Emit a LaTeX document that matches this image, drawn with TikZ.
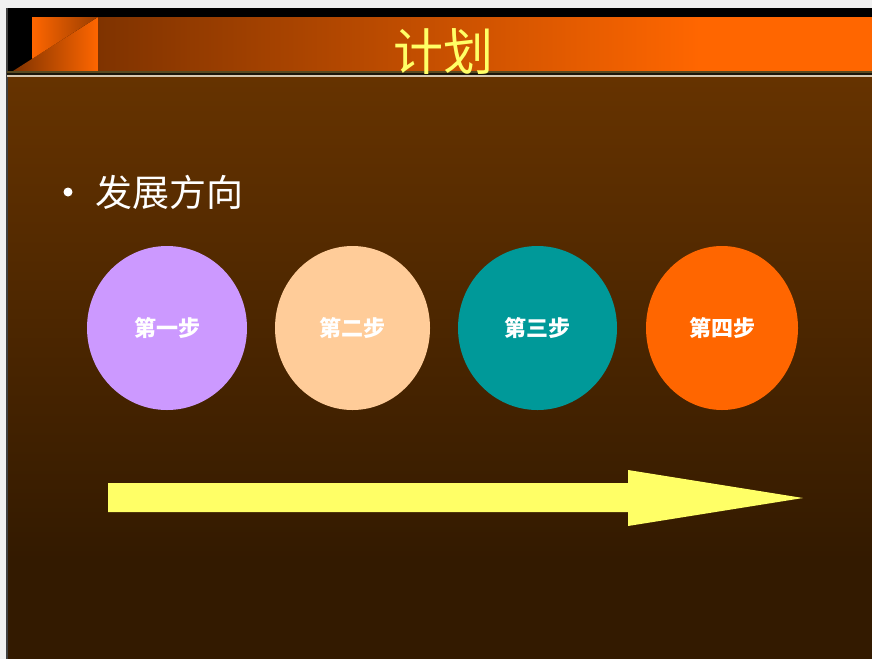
\documentclass[tikz,border=0pt]{standalone}
\usepackage{fontspec}
\newfontfamily\cjk{Noto Sans CJK SC}
\definecolor{pagegray}{HTML}{F0F0F0}
\definecolor{barbrown}{HTML}{7F3300}
\definecolor{barorange}{HTML}{FF6600}
\definecolor{bodytop}{HTML}{663300}
\definecolor{bodybot}{HTML}{331A00}
\definecolor{titleyellow}{HTML}{FFFF66}
\definecolor{lilac}{HTML}{CC99FF}
\definecolor{peach}{HTML}{FFCC99}
\definecolor{teal}{HTML}{009999}
\definecolor{arrowyellow}{HTML}{FFFF66}
\definecolor{lineolive}{HTML}{5A4A20}
\definecolor{linebeige}{HTML}{D8C8B0}
\tikzset{
  stepcircle/.style={ellipse, minimum width=#1, minimum height=164pt, inner sep=0pt, text=white, font=\cjk\bfseries\fontsize{22}{22}\selectfont},
}
\usetikzlibrary{shapes.geometric}
\begin{document}
\begin{tikzpicture}[x=1pt,y=-1pt]
\useasboundingbox (0,0) rectangle (872,659);
% page background
\fill[pagegray] (0,0) rectangle (872,659);
% slide body
\fill[black] (7,8) rectangle (872,77);
\shade[top color=bodytop, bottom color=bodybot, shading angle=0] (7,77) rectangle (872,560);
\fill[bodybot] (7,559.5) rectangle (872,659);
% left edge line
\fill[black!75] (6,8) rectangle (8,659);
% title bar
\shade[left color=barbrown, right color=barorange] (98,17) rectangle (700,71);
\fill[barorange] (699.5,17) rectangle (872,71);
\shade[left color=barbrown, right color=barorange] (13,71) -- (98,17) -- (98,71) -- cycle;
\shade[left color=barorange, right color=barbrown!80!barorange] (32,17) -- (98,17) -- (32,58.9) -- cycle;
% separator lines
\fill[lineolive] (7,71) rectangle (872,73);
\fill[black!70!lineolive] (7,73) rectangle (872,75);
\fill[linebeige] (7,75) rectangle (872,77);
% title
\node[text=titleyellow, font=\cjk\fontsize{50}{50}\selectfont, anchor=center] (title) at (443,52) {计划};
% bullet
\fill[white] (68,192) circle (4.5);
\node[text=white, font=\cjk\fontsize{37}{37}\selectfont, anchor=west] (bullet) at (92,192) {发展方向};
% circles
\node[stepcircle=160pt, fill=lilac] (s1) at (167,328) {第一步};
\node[stepcircle=155pt, fill=peach] (s2) at (352.5,328) {第二步};
\node[stepcircle=159pt, fill=teal] (s3) at (537.5,328) {第三步};
\node[stepcircle=152pt, fill=barorange] (s4) at (722,328) {第四步};
% arrow
\fill[arrowyellow] (108,483) -- (628,483) -- (628,470) -- (803,498) -- (628,526) -- (628,512) -- (108,512) -- cycle;
\end{tikzpicture}
\end{document}
